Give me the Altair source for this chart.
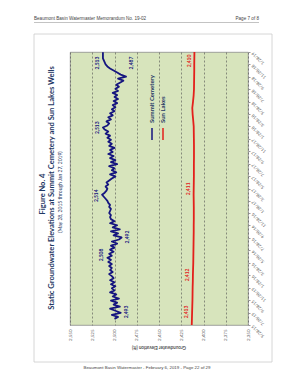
import altair as alt
import pandas as pd

FONT = "Lato"
PAGE_FONT = "Liberation Sans"

series_names = ["Summit Cemetery", "Sun Lakes"]
series_colors = ["#15157f", "#e3201b"]

# Summit Cemetery well, readings every 10 days starting 2015-06-27
summit_start = "2015-06-27"
summit_values = [
    2500, 2496, 2503, 2493, 2499, 2505, 2494, 2501, 2497, 2504, 2495, 2502, 2498, 2505, 2500,
    2503, 2499, 2504, 2500, 2505, 2501, 2503, 2506, 2502, 2505, 2503,
    2506, 2503, 2507, 2504, 2508, 2503, 2506, 2501, 2505, 2500,
    2504, 2497, 2503, 2495, 2492, 2501, 2496, 2504, 2494, 2502, 2497, 2505, 2500,
    2504, 2505, 2504, 2506, 2505, 2504, 2506, 2505, 2507, 2508,
    2510, 2512, 2514, 2511, 2509,
    2508, 2510, 2507, 2509, 2506,
    2503, 2499, 2505, 2498, 2503, 2500, 2506, 2497, 2504, 2499, 2505, 2501, 2507, 2502, 2505, 2500, 2506, 2503, 2507, 2504,
    2508, 2505, 2510, 2507, 2511, 2513, 2508, 2506, 2509, 2504, 2507, 2502, 2505, 2500, 2503, 2499,
    2502, 2497, 2501, 2496, 2500, 2497, 2502, 2496, 2499, 2495, 2498, 2494,
    2490, 2496, 2487, 2493, 2497,
    2501, 2505, 2508, 2510, 2511, 2512, 2513, 2513, 2513, 2513,
]

# Sun Lakes well, monthly readings starting 2015-05-28
sun_start = "2015-05-28"
sun_values = [
    2413.2, 2413.0, 2412.8, 2412.6, 2412.4, 2412.3, 2412.2, 2412.0, 2411.9, 2411.7,
    2411.5, 2411.4, 2411.3, 2411.2, 2411.1, 2411.0, 2411.0, 2410.9, 2410.9, 2410.9,
    2411.0, 2411.1, 2411.0, 2410.9, 2410.8, 2410.8, 2410.8, 2410.7, 2410.7, 2410.7,
    2410.8, 2410.9, 2411.0, 2411.6, 2412.2, 2412.6, 2411.8, 2411.1, 2410.7, 2410.6,
    2410.5, 2410.4, 2410.4, 2410.3, 2410.2,
]

elev_ticks = [2350, 2375, 2400, 2425, 2450, 2475, 2500, 2525, 2550]
date_ticks = [
    (2015, 5, 28), (2015, 7, 28), (2015, 9, 28), (2015, 11, 28),
    (2016, 1, 28), (2016, 3, 28), (2016, 5, 28), (2016, 7, 28), (2016, 9, 28), (2016, 11, 28),
    (2017, 1, 28), (2017, 3, 28), (2017, 5, 28), (2017, 7, 28), (2017, 9, 28), (2017, 11, 28),
    (2018, 1, 28), (2018, 3, 28), (2018, 5, 28), (2018, 7, 28), (2018, 9, 28), (2018, 11, 28),
    (2019, 1, 28),
]

label_series = ["Summit Cemetery"] * 7 + ["Sun Lakes"] * 4
label_dates = ["2015/07/31", "2016/05/06", "2016/08/02", "2017/02/21", "2018/01/21", "2018/12/05", "2018/12/05",
               "2015/07/31", "2016/01/29", "2017/03/27", "2018/12/15"]
label_values = [2493, 2508, 2492, 2514, 2513, 2487, 2513, 2413, 2412, 2411, 2410]
label_texts = ["2,493", "2,508", "2,492", "2,514", "2,513", "2,487", "2,513", "2,413", "2,412", "2,411", "2,410"]
label_side = ["right", "left", "right", "left", "left", "right", "left", "left", "left", "left", "left"]

# ---- tables ----
summit_dates = pd.date_range(summit_start, periods=len(summit_values), freq="10D")
sun_dates = pd.date_range(sun_start, periods=len(sun_values), freq=pd.DateOffset(months=1))
lines_df = pd.DataFrame({
    "series": ["Summit Cemetery"] * len(summit_values) + ["Sun Lakes"] * len(sun_values),
    "date": [d.strftime("%Y/%m/%d") for d in summit_dates] + [d.strftime("%Y/%m/%d") for d in sun_dates],
    "elev": summit_values + sun_values,
})
lines_df["order"] = range(len(lines_df))

labels_df = pd.DataFrame({
    "series": label_series, "date": label_dates, "elev": label_values,
    "text": label_texts, "side": label_side,
})

one = pd.DataFrame({"a": [0]})

tick_objs = [alt.DateTime(year=y, month=m, date=d) for (y, m, d) in date_ticks]

x_enc = alt.X(
    "elev:Q",
    scale=alt.Scale(domain=[2350, 2550], reverse=True, nice=False, zero=False),
    axis=alt.Axis(values=elev_ticks, format=",.0f", labelAngle=270, labelAlign="right",
                  labelBaseline="middle", labelFontSize=4.5, labelColor="#555555", labelFont=FONT,
                  labelPadding=4, tickSize=0, domain=False, grid=True, gridDash=[2, 2],
                  gridColor="#4d4d4d", gridWidth=0.6, title=None, labelFlush=False,
                  labelOverlap=False),
)
y_enc = alt.Y(
    "date:T",
    scale=alt.Scale(domain=[tick_objs[0], tick_objs[-1]], nice=False),
    axis=alt.Axis(orient="right", values=tick_objs, format="%-m/%-d/%y", labelAngle=225,
                  labelAlign="right", labelBaseline="middle", labelFontSize=4.2,
                  labelColor="#555555", labelFont=FONT, labelPadding=2, tickSize=2,
                  tickColor="#999999", domain=False, grid=False, title=None,
                  labelOverlap=False, labelFlush=False),
)
color_enc = alt.Color("series:N", scale=alt.Scale(domain=series_names, range=series_colors), legend=None)

lines = alt.Chart(lines_df).mark_line(strokeWidth=1.8, clip=True, strokeJoin="round").encode(
    x=x_enc, y=y_enc, color=color_enc, order="order:Q"
)

lab_left = alt.Chart(labels_df).transform_filter(alt.datum.side == "left").mark_text(
    angle=270, align="center", baseline="bottom", dy=-3, fontSize=5, fontWeight="bold", font=FONT
).encode(x=x_enc, y=y_enc, color=color_enc, text="text:N")
lab_right = alt.Chart(labels_df).transform_filter(alt.datum.side == "right").mark_text(
    angle=270, align="center", baseline="top", dy=3, fontSize=5, fontWeight="bold", font=FONT
).encode(x=x_enc, y=y_enc, color=color_enc, text="text:N")


def txt(text, x, y, size, angle=0, align="center", baseline="middle", color="#333333",
        weight="normal", font=FONT):
    return alt.Chart(one).mark_text(
        text=text, fontSize=size, angle=angle, align=align, baseline=baseline,
        color=color, fontWeight=weight, font=font
    ).encode(x=alt.value(x), y=alt.value(y))


def rule(x, y, x2, y2, color, width):
    return alt.Chart(one).mark_rule(color=color, strokeWidth=width).encode(
        x=alt.value(x), y=alt.value(y), x2=alt.value(x2), y2=alt.value(y2)
    )


page_box = alt.Chart(one).mark_rect(fillOpacity=0, stroke="#cccccc", strokeWidth=0.8).encode(
    x=alt.value(-36), x2=alt.value(202), y=alt.value(-18), y2=alt.value(310)
)

navy = "#1f3864"
layers = [
    page_box,
    txt("Beaumont Basin Watermaster Memorandum No. 19-02", -36, -31, 4.6, align="left",
        baseline="bottom", color="#444444", font=PAGE_FONT),
    txt("Page 7 of 8", 189, -31, 4.6, align="right", baseline="bottom", color="#444444", font=PAGE_FONT),
    rule(-36, -29.5, 189, -29.5, "#9a9a9a", 0.6),
    txt("Beaumont Basin Watermaster - February 6, 2019 - Page 22 of 29", 77, 316, 4.4,
        color="#444444", font=PAGE_FONT),
    txt("Figure No. 4", -27, 142, 7.5, angle=270, color=navy, weight="bold"),
    txt("Static Groundwater Elevations at Summit Cemetery and Sun Lakes Wells", -18, 136, 7.6,
        angle=270, color=navy, weight="bold"),
    txt("(May 28, 2015 through Jan 27, 2019)", -10, 140, 5, angle=270, color=navy),
    txt("Groundwater Elevation (ft)", 89, 295, 4.6, angle=180, color="#555555", weight="bold"),
    lines,
    lab_left,
    lab_right,
    txt("Summit Cemetery", 82, 71, 6, angle=270, align="left", color=navy, weight="bold"),
    rule(82, 76, 82, 88, series_colors[0], 1.5),
    txt("Sun Lakes", 93, 71, 6, angle=270, align="left", color=navy, weight="bold"),
    rule(93, 76, 93, 88, series_colors[1], 1.5),
]

chart = alt.layer(*layers).properties(
    width=178, height=273,
    padding={"left": 70, "top": 52, "right": 45, "bottom": 55},
    autosize=alt.AutoSizeParams(type="none"),
    background="white",
).configure_view(fill="#d7e4bc", stroke="#8c8c8c", strokeWidth=0.8)

chart.save("out.html", embed_options={"renderer": "svg", "actions": False})
